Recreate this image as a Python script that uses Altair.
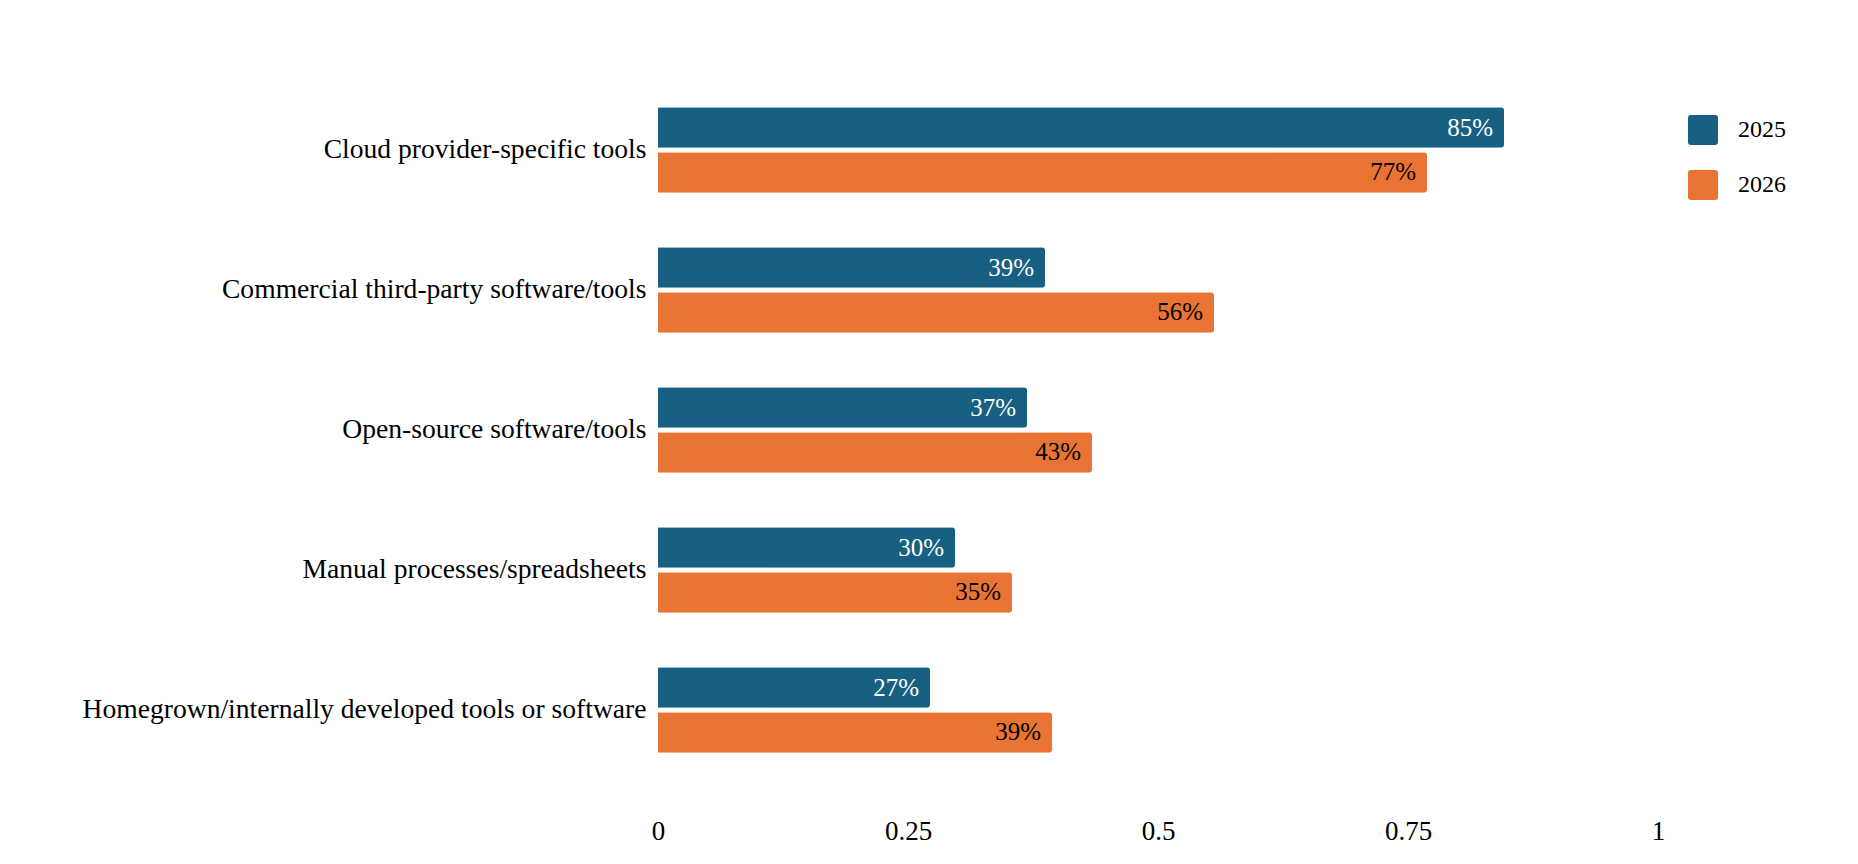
import altair as alt
import pandas as pd

categories = [
    "Cloud provider-specific tools",
    "Commercial third-party software/tools",
    "Open-source software/tools",
    "Manual processes/spreadsheets",
    "Homegrown/internally developed tools or software",
]
years = ["2025", "2026"]
values_2025 = [0.846, 0.387, 0.369, 0.297, 0.272]
values_2026 = [0.769, 0.556, 0.434, 0.354, 0.394]
colors = ["#176082", "#e97333"]
label_colors = ["#ffffff", "#000000"]
x_ticks = [0, 0.25, 0.5, 0.75, 1]

rows = []
for c, v in zip(categories, values_2025):
    rows.append({"category": c, "year": "2025", "value": v, "lc": label_colors[0]})
for c, v in zip(categories, values_2026):
    rows.append({"category": c, "year": "2026", "value": v, "lc": label_colors[1]})
df = pd.DataFrame(rows)

FONT = "Liberation Serif"
rounded = ("M -0.8 -1 L 0.8 -1 Q 1 -1 1 -0.8 L 1 0.8 Q 1 1 0.8 1 L -0.8 1 "
           "Q -1 1 -1 0.8 L -1 -0.8 Q -1 -1 -0.8 -1 Z")

y_enc = alt.Y("category:N", sort=categories, title=None,
              scale=alt.Scale(paddingInner=0.39, paddingOuter=0.195),
              axis=alt.Axis(ticks=False, domain=False, labelFont=FONT,
                            labelFontSize=27.6, labelColor="#000000",
                            labelPadding=12, labelLimit=800))
yoff = alt.YOffset("year:N", sort=years,
                   scale=alt.Scale(paddingInner=0.1, paddingOuter=0))

base = alt.Chart(df)

bars = base.mark_bar(cornerRadiusEnd=3).encode(
    x=alt.X("value:Q", title=None,
            scale=alt.Scale(domain=[0, 1]),
            axis=alt.Axis(values=x_ticks, format="~g", grid=False, ticks=False,
                          domain=False, labelFlush=False, labelFont=FONT,
                          labelFontSize=27, labelColor="#000000",
                          labelPadding=38)),
    y=y_enc,
    yOffset=yoff,
    color=alt.Color("year:N", sort=years, title=None,
                    scale=alt.Scale(domain=years, range=colors),
                    legend=alt.Legend(orient="none", legendX=1030, legendY=35,
                                      symbolType=rounded, symbolSize=900,
                                      symbolStrokeWidth=0, symbolOpacity=1,
                                      labelFont=FONT, labelFontSize=24,
                                      labelColor="#000000", labelOffset=20,
                                      rowPadding=25)),
)

labels = base.mark_text(align="right", baseline="middle", dx=-11,
                        font=FONT, fontSize=25).encode(
    x="value:Q",
    y=alt.Y("category:N", sort=categories),
    yOffset=yoff,
    text=alt.Text("value:Q", format=".0%"),
    color=alt.Color("lc:N", scale=None, legend=None),
)

chart = alt.layer(bars, labels).properties(
    width=1000, height=700,
    autosize=alt.AutoSizeParams(type="none"),
    padding={"left": 650, "top": 72, "right": 192, "bottom": 76},
).configure_view(stroke=None)

chart.save("out.html", embed_options={"renderer": "svg", "actions": False})
